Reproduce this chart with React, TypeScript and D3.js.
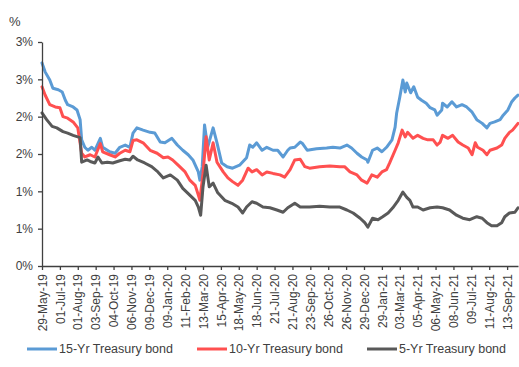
import { useEffect, useRef } from "react";
import * as d3 from "d3";

// Treasury bond yields (%).
// x = trading-day index from 29-May-19 (labels every 23 trading days).
const DAY_LABELS = [
  "29-May-19", "01-Jul-19", "01-Aug-19", "03-Sep-19", "04-Oct-19", "06-Nov-19",
  "09-Dec-19", "09-Jan-20", "11-Feb-20", "13-Mar-20", "15-Apr-20", "18-May-20",
  "18-Jun-20", "21-Jul-20", "21-Aug-20", "23-Sep-20", "26-Oct-20", "26-Nov-20",
  "29-Dec-20", "29-Jan-21", "03-Mar-21", "05-Apr-21", "06-May-21", "08-Jun-21",
  "09-Jul-21", "11-Aug-21", "13-Sep-21",
];
const LABEL_STEP = 23;
const LAST_DAY = 612;

const Y_TICKS = [0, 0.5, 1, 1.5, 2, 2.5, 3];
const Y_TICK_LABELS = ["0%", "1%", "1%", "2%", "2%", "3%", "3%"];

const BOND_15Y: [number, number][] = [
  [0, 2.72], [4, 2.6], [10, 2.49], [14, 2.38], [21, 2.36], [26, 2.33], [30, 2.22],
  [33, 2.16], [40, 2.13], [45, 2.09], [49, 1.96], [51, 1.69], [55, 1.59], [59, 1.55],
  [64, 1.59], [68, 1.55], [75, 1.71], [78, 1.59], [87, 1.53], [94, 1.51], [100, 1.59],
  [107, 1.62], [113, 1.59], [117, 1.78], [122, 1.85], [130, 1.82], [139, 1.79],
  [145, 1.78], [152, 1.66], [158, 1.65], [167, 1.71], [174, 1.62], [181, 1.55],
  [188, 1.49], [194, 1.42], [201, 1.26], [203, 1.15], [206, 1.33], [209, 1.89],
  [213, 1.59], [220, 1.85], [225, 1.65], [231, 1.38], [238, 1.33], [245, 1.31],
  [254, 1.35], [263, 1.45], [267, 1.62], [271, 1.59], [276, 1.65], [283, 1.55],
  [289, 1.59], [297, 1.55], [303, 1.55], [310, 1.46], [316, 1.55], [319, 1.58],
  [325, 1.59], [332, 1.66], [335, 1.64], [341, 1.55], [353, 1.57], [366, 1.58],
  [374, 1.59], [383, 1.58], [392, 1.62], [398, 1.58], [405, 1.51], [411, 1.46],
  [418, 1.42], [419, 1.39], [425, 1.55], [431, 1.58], [437, 1.53], [443, 1.59],
  [450, 1.69], [454, 1.86], [456, 2.05], [460, 2.26], [464, 2.49], [467, 2.33],
  [469, 2.45], [474, 2.32], [478, 2.4], [483, 2.26], [488, 2.22], [494, 2.18],
  [499, 2.12], [505, 2.09], [508, 2.02], [514, 2.09], [515, 2.18], [521, 2.13],
  [527, 2.2], [533, 2.13], [540, 2.16], [546, 2.13], [553, 2.06], [559, 1.96],
  [566, 1.91], [572, 1.85], [576, 1.91], [582, 1.93], [589, 1.96], [593, 2.02],
  [599, 2.09], [604, 2.2], [608, 2.25], [612, 2.29],
];

const BOND_10Y: [number, number][] = [
  [0, 2.4], [4, 2.29], [10, 2.16], [17, 2.13], [23, 2.12], [27, 2.0], [33, 1.98],
  [40, 1.93], [46, 1.85], [51, 1.51], [55, 1.46], [62, 1.49], [68, 1.46], [75, 1.64],
  [78, 1.53], [87, 1.49], [94, 1.46], [100, 1.51], [107, 1.55], [113, 1.53],
  [117, 1.68], [122, 1.69], [130, 1.65], [139, 1.55], [148, 1.51], [156, 1.45],
  [162, 1.46], [168, 1.42], [175, 1.35], [184, 1.26], [190, 1.15], [197, 1.08],
  [201, 0.95], [203, 0.88], [207, 1.24], [211, 1.73], [215, 1.42], [220, 1.65],
  [225, 1.39], [233, 1.26], [239, 1.18], [245, 1.13], [252, 1.08], [258, 1.15],
  [265, 1.31], [270, 1.26], [276, 1.29], [283, 1.22], [289, 1.26], [297, 1.24],
  [306, 1.22], [312, 1.19], [319, 1.29], [325, 1.42], [332, 1.43], [338, 1.33],
  [344, 1.31], [357, 1.33], [370, 1.34], [383, 1.33], [389, 1.33], [396, 1.26],
  [405, 1.22], [411, 1.15], [418, 1.11], [424, 1.22], [431, 1.19], [437, 1.26],
  [443, 1.29], [447, 1.38], [454, 1.55], [458, 1.65], [463, 1.82], [467, 1.73],
  [470, 1.79], [477, 1.71], [483, 1.75], [490, 1.71], [496, 1.69], [503, 1.69],
  [508, 1.62], [512, 1.66], [515, 1.75], [522, 1.71], [528, 1.75], [535, 1.66],
  [541, 1.62], [548, 1.58], [553, 1.49], [557, 1.65], [560, 1.59], [567, 1.55],
  [572, 1.49], [576, 1.55], [585, 1.58], [591, 1.62], [595, 1.71], [601, 1.79],
  [605, 1.82], [612, 1.91],
];

const BOND_5Y: [number, number][] = [
  [0, 2.05], [6, 1.96], [13, 1.87], [19, 1.85], [27, 1.8], [33, 1.78], [40, 1.75],
  [46, 1.73], [49, 1.72], [51, 1.39], [58, 1.42], [62, 1.4], [68, 1.38], [72, 1.46],
  [77, 1.38], [84, 1.39], [91, 1.38], [100, 1.41], [107, 1.43], [113, 1.42],
  [117, 1.47], [123, 1.42], [132, 1.38], [141, 1.33], [149, 1.26], [156, 1.18],
  [165, 1.22], [174, 1.15], [181, 1.04], [190, 0.95], [197, 0.88], [201, 0.79],
  [204, 0.68], [207, 1.06], [211, 1.35], [215, 1.06], [220, 1.11], [226, 0.98],
  [235, 0.88], [244, 0.84], [252, 0.79], [258, 0.71], [263, 0.79], [270, 0.86],
  [276, 0.84], [284, 0.79], [293, 0.78], [302, 0.75], [310, 0.72], [316, 0.78],
  [325, 0.84], [332, 0.79], [344, 0.79], [357, 0.8], [370, 0.79], [383, 0.79],
  [392, 0.75], [400, 0.71], [409, 0.64], [415, 0.58], [419, 0.52], [425, 0.64],
  [432, 0.62], [438, 0.66], [445, 0.71], [451, 0.78], [458, 0.88], [464, 0.99],
  [469, 0.92], [473, 0.88], [477, 0.79], [483, 0.79], [490, 0.75], [499, 0.78],
  [508, 0.79], [515, 0.78], [524, 0.75], [533, 0.68], [541, 0.64], [550, 0.62],
  [559, 0.66], [566, 0.64], [572, 0.58], [578, 0.54], [585, 0.54], [591, 0.58],
  [595, 0.66], [601, 0.71], [608, 0.72], [612, 0.78],
];

const SERIES = [
  { name: "15-Yr Treasury bond", color: "#5B9BD5", data: BOND_15Y },
  { name: "10-Yr Treasury bond", color: "#FF5050", data: BOND_10Y },
  { name: "5-Yr Treasury bond", color: "#595959", data: BOND_5Y },
];

const W = 519;
const H = 367;
const M = { top: 42, right: 1, bottom: 101, left: 42 };
const FONT = "'Liberation Sans', Arial, sans-serif";
const AXIS_COLOR = "#404040";
const TEXT_COLOR = "#404040";

export default function App() {
  const svgRef = useRef<SVGSVGElement>(null);

  useEffect(() => {
    document.body.style.margin = "0";
    if (!svgRef.current) return;

    const svg = d3.select(svgRef.current);
    svg.selectAll("*").remove();

    const x = d3.scaleLinear().domain([0, LAST_DAY]).range([M.left, W - M.right]);
    const y = d3.scaleLinear().domain([0, 3]).range([H - M.bottom, M.top]);

    // ── Lines ──
    const line = d3
      .line<[number, number]>()
      .x((d) => x(d[0]))
      .y((d) => y(d[1]));

    SERIES.forEach((s) => {
      svg.append("path")
        .attr("d", line(s.data))
        .attr("fill", "none")
        .attr("stroke", s.color)
        .attr("stroke-width", 3)
        .attr("stroke-linejoin", "round")
        .attr("stroke-linecap", "round");
    });

    // ── Y axis ──
    svg.append("g")
      .attr("transform", `translate(${M.left},0)`)
      .call(
        d3.axisLeft(y)
          .tickValues(Y_TICKS)
          .tickFormat((_, i) => Y_TICK_LABELS[i])
          .tickSize(4)
          .tickSizeOuter(0),
      )
      .call((g) => {
        g.select(".domain").attr("stroke", AXIS_COLOR).attr("stroke-width", 1.3);
        g.selectAll(".tick line").attr("stroke", AXIS_COLOR).attr("stroke-width", 1.3);
        g.selectAll(".tick text")
          .attr("x", -9)
          .attr("fill", TEXT_COLOR)
          .attr("font-size", 12)
          .attr("font-family", FONT);
      });

    // ── X axis ──
    const tickDays = DAY_LABELS.map((_, i) => i * LABEL_STEP);
    svg.append("g")
      .attr("transform", `translate(0,${H - M.bottom})`)
      .call(
        d3.axisBottom(x)
          .tickValues(tickDays)
          .tickFormat((_, i) => DAY_LABELS[i])
          .tickSize(4)
          .tickSizeOuter(0),
      )
      .call((g) => {
        g.select(".domain").attr("stroke", AXIS_COLOR).attr("stroke-width", 1.3);
        g.selectAll(".tick line").attr("stroke", AXIS_COLOR).attr("stroke-width", 1.3);
        g.selectAll(".tick text")
          .attr("transform", "rotate(-90)")
          .attr("x", -8)
          .attr("y", 0)
          .attr("dy", "0.35em")
          .attr("text-anchor", "end")
          .attr("fill", TEXT_COLOR)
          .attr("font-size", 12)
          .attr("font-family", FONT);
      });

    // ── "%" unit label ──
    svg.append("text")
      .attr("x", 9)
      .attr("y", 26)
      .attr("font-size", 13)
      .attr("font-family", FONT)
      .attr("fill", TEXT_COLOR)
      .text("%");

    // ── Legend ──
    const legendX = [27, 197, 367];
    SERIES.forEach((s, i) => {
      const lg = svg.append("g").attr("transform", `translate(${legendX[i]},349)`);
      lg.append("line")
        .attr("x1", 0).attr("x2", 30)
        .attr("y1", 0).attr("y2", 0)
        .attr("stroke", s.color)
        .attr("stroke-width", 3);
      lg.append("text")
        .attr("x", 32)
        .attr("y", 0)
        .attr("dy", "0.35em")
        .attr("font-size", 12.5)
        .attr("font-family", FONT)
        .attr("fill", TEXT_COLOR)
        .text(s.name);
    });
  }, []);

  return (
    <svg
      ref={svgRef}
      width={W}
      height={H}
      style={{ display: "block", background: "#fff" }}
    />
  );
}
